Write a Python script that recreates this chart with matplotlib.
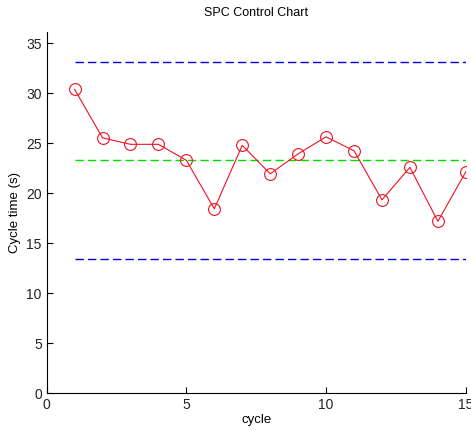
import numpy as np
import matplotlib
matplotlib.use("Agg")
from matplotlib import pyplot as plt

# cycle times
cycle = [1, 2, 3, 4, 5, 6, 7, 8, 9, 10, 11, 12, 13, 14, 15]
cycle_time = [30.4, 25.55, 24.9, 24.9, 23.3, 18.45, 24.8, 21.95, 23.95,
              25.65, 24.25, 19.35, 22.6, 17.2, 22.15]
ucl = 33.15
center = 23.3
lcl = 13.45
x_ticks = [0, 5, 10, 15]
y_ticks = [0, 5, 10, 15, 20, 25, 30, 35]

plt.rcParams["font.family"] = "Liberation Sans"

fig = plt.figure(figsize=(4.71, 4.30), dpi=100)
ax = fig.add_axes([0.099, 0.085, 0.890, 0.840])

dash = (0, (6, 3))
ax.plot([cycle[0], cycle[-1]], [ucl, ucl], color="#0000e0", linestyle=dash, linewidth=1.0)
ax.plot([cycle[0], cycle[-1]], [lcl, lcl], color="#0000e0", linestyle=dash, linewidth=1.0)
ax.plot([cycle[0], cycle[-1]], [center, center], color="#00dd00", linestyle=dash, linewidth=1.0)
ax.plot(cycle, cycle_time, color="#ee1122", linewidth=0.8, marker="o", markersize=8.5,
        markerfacecolor="none", markeredgecolor="#ee1122", markeredgewidth=0.8)

ax.set_xlim(0, 15)
ax.set_ylim(0, 36.1)
ax.set_xticks(x_ticks)
ax.set_yticks(y_ticks)
ax.tick_params(direction="in", length=4, labelsize=10, colors="black", labelcolor="#222222")
ax.spines["top"].set_visible(False)
ax.spines["right"].set_visible(False)
ax.set_title("SPC Control Chart", fontsize=9, pad=12)
ax.set_xlabel("cycle", fontsize=9.5, labelpad=1)
ax.set_ylabel("Cycle time (s)", fontsize=9.5, labelpad=4)

fig.savefig("out.png", dpi=100)
